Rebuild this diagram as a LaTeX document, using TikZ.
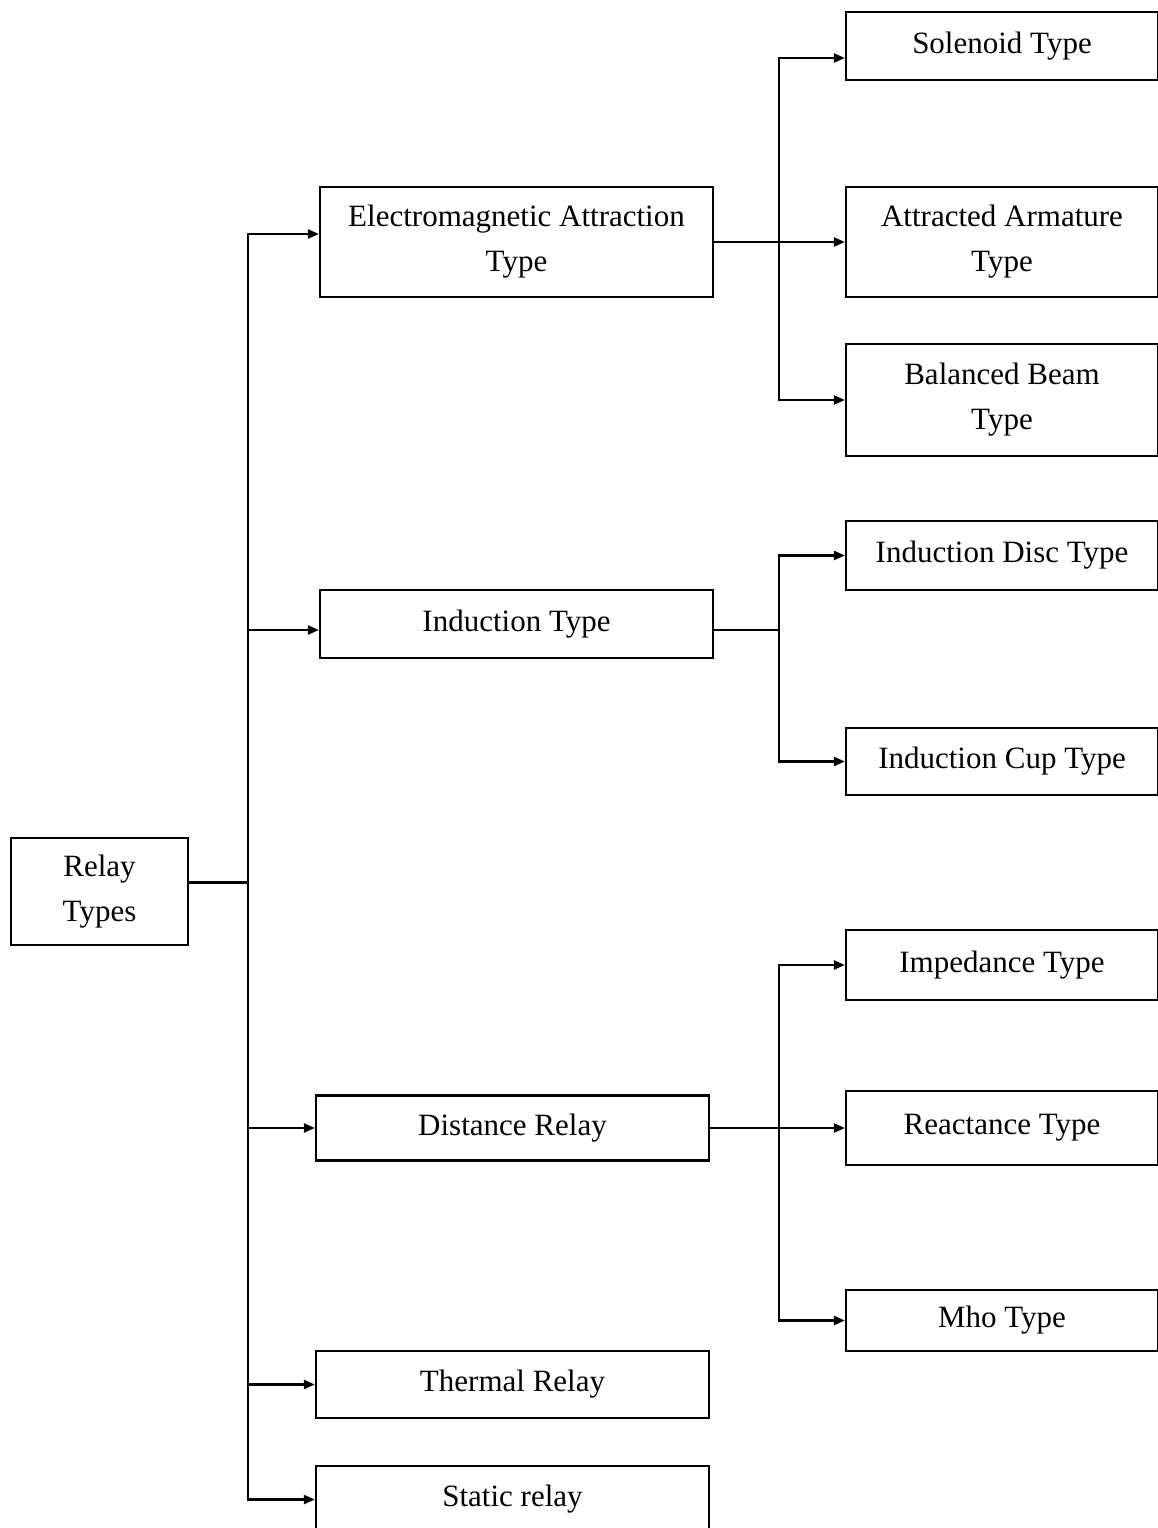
\documentclass[tikz,border=0pt]{standalone}
\usepackage{fontspec}
\setmainfont{Liberation Serif}
\usetikzlibrary{arrows.meta}

\begin{document}
\begin{tikzpicture}[x=1pt, y=-1pt,
    box/.style={rectangle, draw, line width=2.2pt, inner sep=0pt, align=center,
    font=\fontsize{31}{45}\selectfont},
    mid/.style={box, minimum width=393pt},
    leaf/.style={box, minimum width=312pt},
    link/.style={line width=2.2pt},
    arrow/.style={link, -{Triangle[length=11pt, width=9pt]}}
]
\useasboundingbox (0,0) rectangle (1157,1528);

\node[box, minimum width=177pt, minimum height=107pt] (relay) at (99.5,891.5) {Relay\\Types};

\node[mid, minimum height=110pt] (emag) at (516.5,242) {Electromagnetic Attraction\\Type};
\node[mid, minimum height=68pt] (induct) at (516.5,624) {Induction Type};
\node[mid, minimum height=65pt] (dist) at (512.5,1128) {Distance Relay};
\node[mid, minimum height=67pt] (therm) at (512.5,1384.5) {Thermal Relay};
\node[mid, minimum height=67pt] (static) at (512.5,1499.5) {Static relay};

\node[leaf, minimum height=68pt] (solenoid) at (1002,46) {Solenoid Type};
\node[leaf, minimum height=110pt] (armature) at (1002,242) {Attracted Armature\\Type};
\node[leaf, minimum height=112pt] (beam) at (1002,400) {Balanced Beam\\Type};
\node[leaf, minimum height=69pt] (disc) at (1002,555.5) {Induction Disc Type};
\node[leaf, minimum height=67pt] (cup) at (1002,761.5) {Induction Cup Type};
\node[leaf, minimum height=70pt] (imped) at (1002,965) {Impedance Type};
\node[leaf, minimum height=74pt] (react) at (1002,1128) {Reactance Type};
\node[leaf, minimum height=61pt] (mho) at (1002,1320.5) {Mho Type};

% main trunk
\draw[link] ([yshift=9pt]relay.east) -- ++(59,0) coordinate (hub);
\draw[arrow] (hub) |- ([yshift=8pt]emag.west);
\draw[arrow] (hub) |- ([yshift=-6pt]induct.west);
\draw[arrow] (hub) |- (dist.west);
\draw[arrow] (hub) |- (therm.west);
\draw[arrow] (hub) |- (static.west);

% electromagnetic branch
\draw[arrow] (emag.east) -- (emag.east -| armature.west);
\path (emag.east) -- ++(65,0) coordinate (emhub);
\draw[arrow] (emhub) |- ([yshift=-12pt]solenoid.west);
\draw[arrow] (emhub) |- (beam.west);

% induction branch
\draw[link] ([yshift=-6pt]induct.east) -- ++(65,0) coordinate (indhub);
\draw[arrow] (indhub) |- (disc.west);
\draw[arrow] (indhub) |- (cup.west);

% distance branch
\draw[arrow] (dist.east) -- (dist.east -| react.west);
\path (dist.east) -- ++(69,0) coordinate (disthub);
\draw[arrow] (disthub) |- (imped.west);
\draw[arrow] (disthub) |- (mho.west);

\end{tikzpicture}
\end{document}
